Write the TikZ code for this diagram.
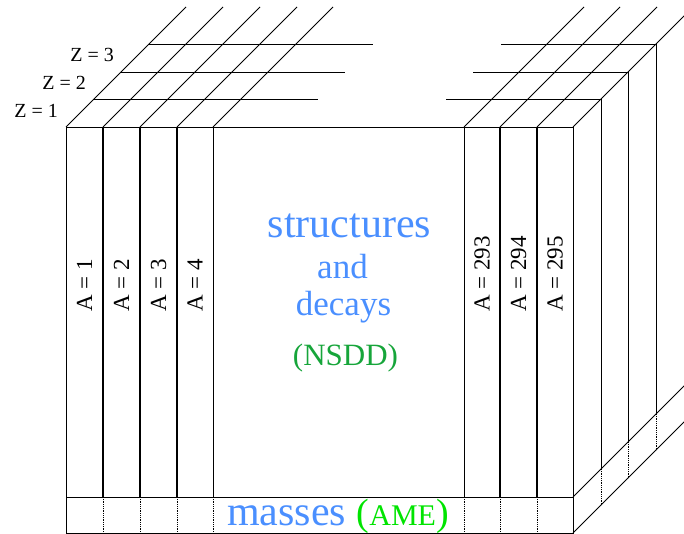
\documentclass[tikz,border=0pt]{standalone}
\usepackage{fontspec}
\setmainfont{Liberation Serif}
\definecolor{strblue}{RGB}{74,143,255}
\definecolor{nsddgreen}{RGB}{22,165,58}
\definecolor{amegreen}{RGB}{0,228,0}

\begin{document}
\begin{tikzpicture}[x=1pt,y=-1pt,
  thinln/.style={line width=0.8pt},
  thickln/.style={line width=1.9pt},
  dotln/.style={line width=0.8pt,densely dotted},
  alabel/.style={rotate=90,anchor=west,inner sep=0pt,font=\fontsize{23}{23}\selectfont},
  zlabel/.style={anchor=east,inner sep=0pt,font=\fontsize{20}{20}\selectfont}]
\useasboundingbox (0,0) rectangle (684,534);
\clip (0,0) rectangle (684,534);
% front face and the masses strip
\draw[thinln] (66,127) rectangle (573,533);
\draw[thinln] (66,497) -- (573,497);
\foreach \x in {213,464} \draw[thinln] (\x,127) -- (\x,497);
\foreach \x in {103,140,177,500,537} \draw[thickln] (\x,127) -- (\x,497);
\foreach \x in {103,140,177,213,464,500,537} \draw[dotln] (\x,497) -- (\x,533);
% lines going back in Z
\foreach \x in {66,103,140,177,213,464,500,537,573} \draw[thinln] (\x,127) -- ++(120,-120);
\draw[thinln] (573,497) -- ++(120,-120);
\draw[thinln] (573,533) -- ++(120,-120);
\foreach \d in {28,55,83}{
  \draw[thinln] (66+\d,127-\d) -- (290+\d,127-\d);
  \draw[thinln] (418+\d,127-\d) -- (573+\d,127-\d) -- (573+\d,497-\d);
  \draw[dotln] (573+\d,497-\d) -- (573+\d,533-\d);
}
\node[zlabel] (z1) at (58,111) {Z = 1};
\node[zlabel] (z2) at (86,83) {Z = 2};
\node[zlabel] (z3) at (114,55) {Z = 3};
% mass numbers
\foreach \x/\a in {84.5/1,121.5/2,158.5/3,195/4,482/293,518.5/294,555/295}
  \node[alabel] (a\a) at (\x,312) {A = \a};
\node[anchor=base,inner sep=0pt,text=strblue,font=\fontsize{42}{42}\selectfont] (struct) at (349.5,237) {structures};
\node[anchor=base,inner sep=0pt,text=strblue,font=\fontsize{35}{35}\selectfont] (and) at (342.5,278) {and};
\node[anchor=base,inner sep=0pt,text=strblue,font=\fontsize{35}{35}\selectfont] (decays) at (343.5,315) {decays};
\node[anchor=base,inner sep=0pt,text=nsddgreen,font=\fontsize{31}{31}\selectfont] (nsdd) at (345.5,365) {(NSDD)};
\node[anchor=base west,inner sep=0pt,text=strblue,font=\fontsize{42}{42}\selectfont] (masses) at (227,525)
  {masses {\color{amegreen}\fontsize{38}{38}\selectfont(\fontsize{30}{30}\selectfont AME\fontsize{38}{38}\selectfont)}};
\end{tikzpicture}
\end{document}
